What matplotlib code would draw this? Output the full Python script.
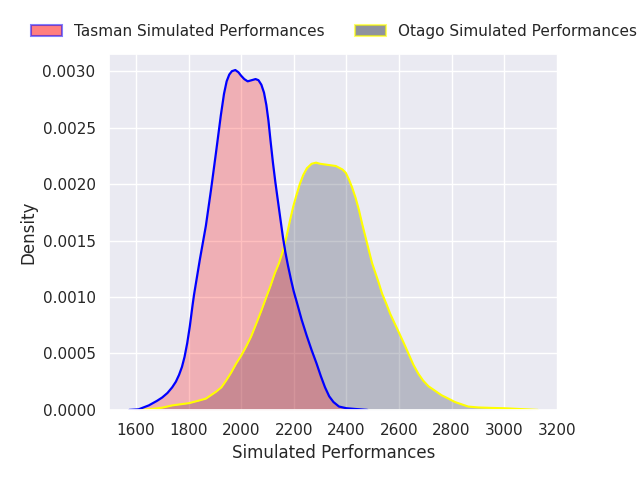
import numpy as np
import matplotlib
matplotlib.use("Agg")
import matplotlib.pyplot as plt
import matplotlib.patches as mpatches
import seaborn as sns

# density curves (x = performance, y = density)
tasman_x = [1575, 1610, 1649, 1680, 1700, 1720, 1738, 1752, 1764, 1775, 1785, 1795,
            1805, 1815, 1821, 1843, 1866, 1885, 1904, 1923, 1935, 1945, 1955, 1965,
            1978, 1990, 2000, 2012, 2025, 2040, 2055, 2066, 2077, 2087, 2096, 2104,
            2112, 2121, 2130, 2140, 2150, 2159, 2168, 2178, 2190, 2200, 2211, 2230,
            2249, 2268, 2287, 2303, 2319, 2335, 2351, 2372, 2400, 2435, 2480]
tasman_d = [0, 0.000005, 0.00004, 0.00008, 0.00011, 0.00015, 0.0002, 0.00025, 0.00031,
            0.00038, 0.00047, 0.00059, 0.00074, 0.00092, 0.00102, 0.00133, 0.00163,
            0.00194, 0.00227, 0.00261, 0.0028, 0.00291, 0.00297, 0.003, 0.00301,
            0.00299, 0.00296, 0.00293, 0.00291, 0.00292, 0.00293, 0.00292, 0.00288,
            0.00281, 0.0027, 0.00256, 0.00238, 0.00219, 0.00202, 0.00185, 0.00168,
            0.00153, 0.0014, 0.00128, 0.00115, 0.00105, 0.00096, 0.0008, 0.00066,
            0.00053, 0.00041, 0.0003, 0.0002, 0.00012, 0.00007, 0.00003, 0.000015,
            0.000008, 0]

otago_x = [1600, 1649, 1700, 1738, 1770, 1802, 1835, 1866, 1885, 1904, 1925, 1943,
           1962, 1981, 2000, 2019, 2038, 2057, 2077, 2096, 2112, 2128, 2144, 2159,
           2172, 2185, 2198, 2210, 2223, 2236, 2250, 2268, 2285, 2300, 2330, 2360,
           2385, 2398, 2410, 2422, 2435, 2448, 2460, 2473, 2486, 2498, 2511, 2524,
           2536, 2552, 2567, 2583, 2599, 2617, 2636, 2655, 2674, 2692, 2712, 2737,
           2762, 2788, 2813, 2838, 2863, 2900, 2950, 3001, 3077, 3128]
otago_d = [0, 0.000005, 0.00002, 0.00004, 0.00005, 0.00006, 0.00008, 0.0001, 0.00013,
           0.00016, 0.0002, 0.00026, 0.00033, 0.00041, 0.00048, 0.00056, 0.00065,
           0.00076, 0.00088, 0.001, 0.0011, 0.00121, 0.0013, 0.00141, 0.00153,
           0.00167, 0.0018, 0.0019, 0.002, 0.00208, 0.00214, 0.00218, 0.00219,
           0.00218, 0.00217, 0.00216, 0.00213, 0.0021, 0.00204, 0.00197, 0.00188,
           0.00177, 0.00165, 0.00153, 0.00141, 0.0013, 0.00121, 0.00112, 0.00103,
           0.00094, 0.00085, 0.00077, 0.00069, 0.0006, 0.0005, 0.0004, 0.00032,
           0.00026, 0.00021, 0.00017, 0.00013, 0.0001, 0.00007, 0.00005, 0.00003,
           0.000022, 0.000018, 0.000015, 0.000006, 0]

labels = ["Tasman Simulated Performances", "Otago Simulated Performances"]
tasman_fill = "red"
otago_fill = "#1f2741"

sns.set_theme()

fig = plt.figure(figsize=(6.4, 4.8), dpi=100)
ax = fig.add_axes([0.170, 0.146, 0.702, 0.741])

ax.fill_between(otago_x, otago_d, color=otago_fill, alpha=0.25, linewidth=0)
ax.plot(otago_x, otago_d, color="yellow", linewidth=1.5, solid_joinstyle="round")
ax.fill_between(tasman_x, tasman_d, color=tasman_fill, alpha=0.25, linewidth=0)
ax.plot(tasman_x, tasman_d, color="blue", linewidth=1.6, solid_joinstyle="round")

ax.set_xlim(1497, 3205)
ax.set_ylim(0, 0.00315)
ax.set_xticks(np.arange(1600, 3201, 200))
ax.set_yticks(np.arange(0, 0.00301, 0.0005))
ax.yaxis.set_major_formatter(matplotlib.ticker.FormatStrFormatter("%.4f"))
ax.set_xlabel("Simulated Performances")
ax.set_ylabel("Density")

handles = [
    mpatches.Patch(facecolor=(1, 0, 0, 0.5), edgecolor=(0, 0, 1, 0.5), linewidth=1.5),
    mpatches.Patch(facecolor=(0.12, 0.15, 0.25, 0.5), edgecolor=(1, 1, 0, 0.6), linewidth=1.5),
]
fig.legend(handles, labels, loc="center", bbox_to_anchor=(0.522, 0.935),
           ncol=2, frameon=False)

fig.savefig("out.png", dpi=100)
